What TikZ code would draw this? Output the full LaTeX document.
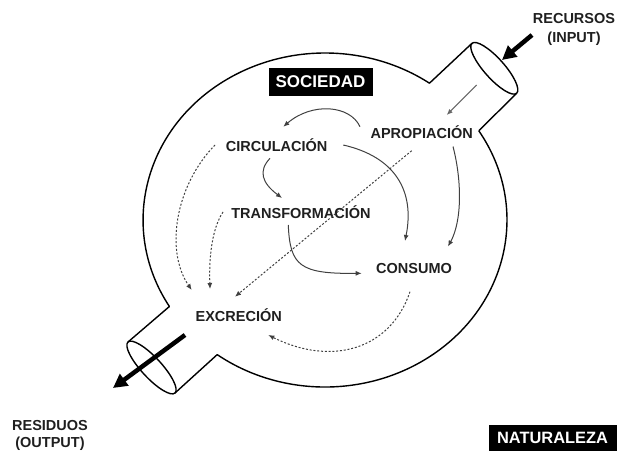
\documentclass[tikz,border=0pt]{standalone}
\usepackage{fontspec}
\setmainfont{Liberation Sans}
\usetikzlibrary{arrows.meta}
\begin{document}
\begin{tikzpicture}[x=1pt,y=1pt,
  lbl/.style={font=\bfseries\fontsize{14.5}{17}\selectfont, text=black!88, inner sep=0pt, anchor=base},
  side/.style={font=\bfseries\fontsize{14.5}{19}\selectfont, text=black!88, inner sep=0pt, align=center},
  boxlbl/.style={fill=black, text=white, inner sep=0pt},
  conn/.style={draw=black!75, line width=1pt, -{Latex[length=6pt,width=5pt]}},
  dconn/.style={conn, dash pattern=on 2pt off 1.8pt},
  bigarrow/.style={line width=4.5pt, -{Triangle[length=14pt,width=14pt]}},
  outline/.style={line width=1.4pt, line join=round}]
\useasboundingbox (0,0) rectangle (625,451);

% body with two tubes
\draw[outline] (478.8,320.2) arc[start angle=32.3, end angle=-126.3, x radius=182, y radius=167] -- (175,58);
\draw[outline] (128,109) -- (169.4,144.5) arc[start angle=211.2, end angle=55, x radius=182, y radius=167] -- (472,407.7);
\draw[outline] (516.6,357.7) -- (478.8,320.2);
\draw[outline, rotate around={-48.2:(494.3,382.7)}] (494.3,382.7) ellipse [x radius=33.5, y radius=10];
\draw[outline, rotate around={-47.3:(151.5,83.5)}] (151.5,83.5) ellipse [x radius=34.7, y radius=10];

% labels
\node[boxlbl, minimum width=104pt, minimum height=28pt, font=\bfseries\fontsize{17}{20}\selectfont] (soc) at (320.5,369) {SOCIEDAD};
\node[boxlbl, minimum width=128pt, minimum height=26pt, font=\bfseries\fontsize{16.4}{19}\selectfont] (nat) at (552.5,13.5) {NATURALEZA};
\node[side] (rec) at (574,422) {RECURSOS\\(INPUT)};
\node[side, font=\bfseries\fontsize{14.5}{17}\selectfont] (res) at (50,16) {RESIDUOS\\(OUTPUT)};

\node[lbl] (apro) at (421.7,312.5) {APROPIACIÓN};
\node[lbl] (circ) at (276.7,299.1) {CIRCULACIÓN};
\node[lbl] (trans) at (301,232.5) {TRANSFORMACIÓN};
\node[lbl] (cons) at (414,177.5) {CONSUMO};
\node[lbl] (excr) at (238.7,129.1) {EXCRECIÓN};

% thick input/output arrows
\coordinate (inS) at (532,416);
\coordinate (inE) at (502,391);
\coordinate (outS) at (185,116);
\coordinate (outE) at (113,63);
\draw[bigarrow] (inS) -- (inE);
\draw[bigarrow] (outS) -- (outE);

% thin input arrow
\coordinate (inlet) at (476.7,366);
\draw[conn, draw=black!60] (inlet) -- ([shift={(25,23.5)}]apro.base);

% solid flows
\draw[conn] ([shift={(-61.7,11.8)}]apro.base) .. controls +(-10,21.7) and +(28.7,24.7) .. ([shift={(6.6,25.2)}]circ.base);
\draw[conn] ([shift={(66.6,6.9)}]circ.base) .. controls +(52,-12) and +(10,50) .. ([shift={(-9,32.5)}]cons.base);
\draw[conn] ([shift={(31.3,-8)}]apro.base) .. controls +(9,-34.5) and +(14,25.5) .. ([shift={(34,27)}]cons.base);
\draw[conn] ([shift={(-6.7,-6.4)}]circ.base) .. controls +(-12,-12.7) and +(-20,15) .. ([shift={(-19,20.5)}]trans.base);
\draw[conn] ([shift={(-12.7,-6.5)}]trans.base) .. controls +(1.7,-41) and +(-61.7,-0.7) .. ([shift={(-52.3,0.2)}]cons.base);

% dashed flows
\draw[dconn] ([shift={(-10,-12.2)}]apro.base) -- ([shift={(-3.7,25.2)}]excr.base);
\draw[dconn] ([shift={(-61.7,6.9)}]circ.base) .. controls +(-40,-41) and +(-26.7,39) .. ([shift={(-47,31.9)}]excr.base);
\draw[dconn] ([shift={(-78,6.5)}]trans.base) .. controls +(-11,-17) and +(-1,33) .. ([shift={(-28.7,32.9)}]excr.base);
\draw[dconn] ([shift={(-4,-18.2)}]cons.base) .. controls +(-20,-59.3) and +(61.7,-31) .. ([shift={(29.6,-13.1)}]excr.base);
\end{tikzpicture}
\end{document}
